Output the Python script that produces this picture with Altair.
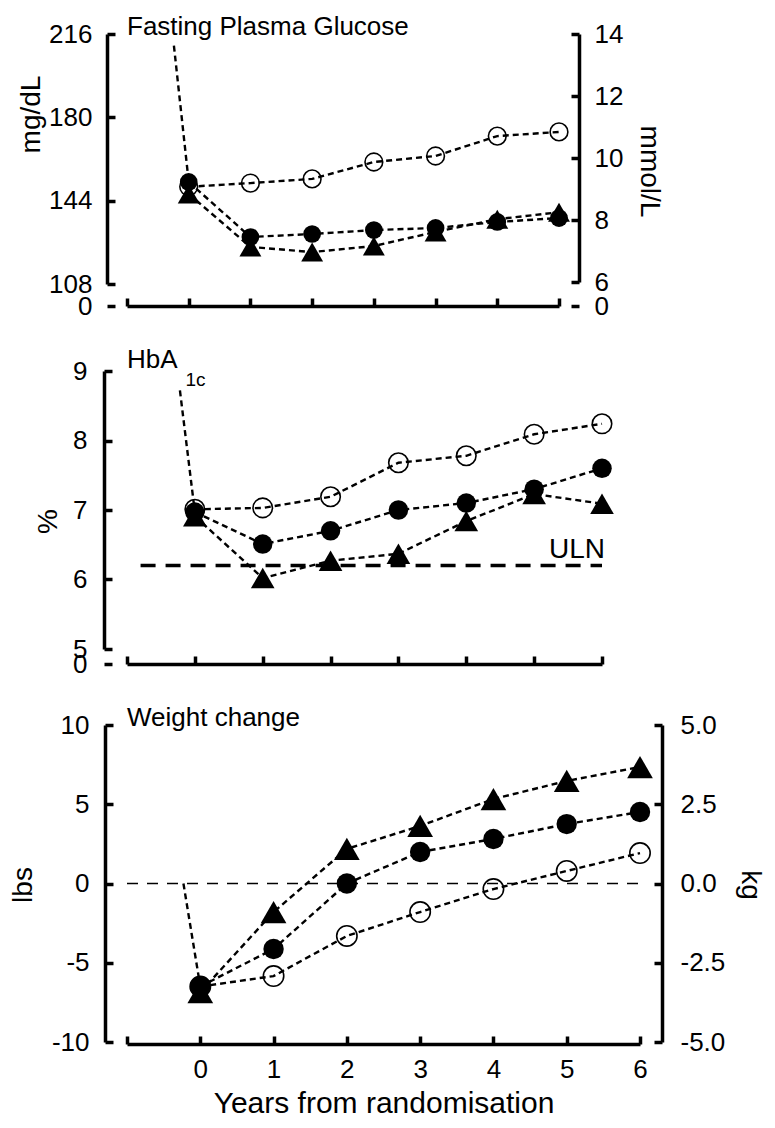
import altair as alt
import pandas as pd

# ---------------- data ----------------
years = [0, 1, 2, 3, 4, 5, 6]
groups = ["Conventional", "Sulphonylurea", "Insulin"]

fpg_conventional = [150.0, 151.6, 153.4, 160.7, 163.3, 171.9, 173.7]
fpg_sulphonylurea = [152.1, 128.3, 129.6, 131.3, 132.2, 134.8, 136.5]
fpg_insulin = [146.9, 124.0, 121.8, 124.4, 130.5, 136.0, 139.0]
fpg_pre_year = -0.24
fpg_pre_value = 211.0

hba_conventional = [7.01, 7.03, 7.19, 7.68, 7.78, 8.09, 8.24]
hba_sulphonylurea = [6.97, 6.51, 6.70, 7.00, 7.10, 7.30, 7.60]
hba_insulin = [6.91, 6.02, 6.27, 6.37, 6.84, 7.23, 7.09]
hba_pre_year = -0.22
hba_pre_value = 8.72
hba_uln = 6.2
hba_uln_from = -0.8

wt_conventional = [-6.5, -5.84, -3.31, -1.80, -0.35, 0.79, 1.92]
wt_sulphonylurea = [-6.5, -4.13, 0.0, 1.99, 2.81, 3.75, 4.51]
wt_insulin = [-6.85, -1.8, 2.18, 3.63, 5.33, 6.47, 7.35]
wt_pre_year = -0.23
wt_pre_value = 0.0

x_ticks = [-1, 0, 1, 2, 3, 4, 5, 6]
x_labels = [0, 1, 2, 3, 4, 5, 6]
fpg_ticks = [108, 144, 180, 216]
mmol_ticks = [6, 8, 10, 12, 14]
hba_ticks = [5, 6, 7, 8, 9]
lbs_ticks = [-10, -5, 0, 5, 10]
kg_ticks = [-5.0, -2.5, 0.0, 2.5, 5.0]

# ---------------- style ----------------
FONT = "Liberation Sans"
LW = 3.5
TICK = 8
LABEL_FS = 26
TITLE_FS = 28


def long_df(vals):
    rows = []
    for g, v in zip(groups, vals):
        for yr, val in zip(years, v):
            rows.append({"year": yr, "value": val, "group": g})
    return pd.DataFrame(rows)


def lab_expr(lo, dec, stub):
    base = f"(datum.value < 0 ? '-' : '') + format(abs(datum.value), '.{dec}f')"
    if stub:
        return f"datum.value < {lo - 1e-6} ? '0' : " + base
    return base


def ghost(data, field, xs, xaxis, ys, yaxis):
    return alt.Chart(data).mark_point(opacity=0).encode(
        x=alt.X("year:Q", scale=xs, axis=xaxis),
        y=alt.Y(f"{field}:Q", scale=ys, axis=yaxis),
    )


def make_panel(vals, pre_year, pre_value, W, H, Hm, lticks, ltitle, loff,
               ltitleY=None, ltitlePad=4, llabPad=15, right=None, show_x=False,
               stub=True, extra=None, title=None, csize=314, tsize=480, sub=None):
    df = long_df(vals)
    pre_df = pd.DataFrame({"year": [pre_year, 0], "value": [pre_value, vals[1][0]],
                           "group": ["pre", "pre"]})
    line_df = pd.concat([df, pre_df], ignore_index=True)
    xs = alt.Scale(domain=[-1, 6], nice=False, zero=False)
    lo, hi = lticks[0], lticks[-1]
    full_lo = lo - (H - Hm) / Hm * (hi - lo)
    ls = alt.Scale(domain=[full_lo, hi], nice=False, zero=False)          # data scale
    lmain = alt.Scale(domain=[lo, hi], range=[Hm, 0], nice=False, zero=False)  # axis line only
    lvals = ([full_lo] if stub else []) + lticks

    xaxis = alt.Axis(orient="bottom", values=x_labels, domain=True, domainWidth=LW,
                     domainColor="black", ticks=False, labels=show_x, labelFlush=False,
                     labelFontSize=LABEL_FS, labelPadding=12, labelColor="black",
                     title="Years from randomisation" if show_x else None,
                     titleFontSize=TITLE_FS + 2, titleFontWeight="normal", titlePadding=6,
                     titleColor="black", grid=False)
    laxis_kw = dict(orient="left", offset=loff, values=lvals,
                    labelExpr=lab_expr(lo, 0, stub), ticks=False, domain=False,
                    labelPadding=llabPad, labelFontSize=LABEL_FS, labelOverlap=False,
                    labelColor="black", title=ltitle, titleFontSize=TITLE_FS,
                    titleFontWeight="normal", titlePadding=ltitlePad, titleColor="black",
                    grid=False)
    if ltitleY is not None:
        laxis_kw["titleY"] = ltitleY
    laxis = alt.Axis(**laxis_kw)

    lines = alt.Chart(line_df).mark_line(
        strokeDash=[6, 4], strokeWidth=2.4, color="black"
    ).encode(
        x=alt.X("year:Q", scale=xs, axis=xaxis),
        y=alt.Y("value:Q", scale=ls, axis=laxis),
        detail="group:N",
    )

    def pts(g, shape, filled, size):
        return alt.Chart(df[df["group"] == g]).mark_point(
            shape=shape, filled=filled, size=size, color="black",
            strokeWidth=1.6, opacity=1
        ).encode(
            x=alt.X("year:Q", scale=xs, axis=None),
            y=alt.Y("value:Q", scale=ls, axis=None),
        )

    open_pts = pts(groups[0], "circle", False, csize)
    tri_pts = pts(groups[2], "triangle-up", True, tsize)
    fill_pts = pts(groups[1], "circle", True, csize)

    # inward ticks of the left axis
    lticks_layer = ghost(df, "value", xs, None, ls, alt.Axis(
        orient="right", offset=-(W + loff), values=lvals, labels=False,
        domain=False, ticks=True, tickSize=TICK, tickWidth=LW,
        tickColor="black", title=None, grid=False))
    # left axis line (broken below the lowest labelled tick)
    ldomain_layer = ghost(df, "value", xs, None, lmain, alt.Axis(
        orient="left", offset=loff, values=lticks, labels=False, ticks=False,
        domain=True, domainWidth=LW, domainColor="black", title=None, grid=False))
    # inward ticks of the x axis
    xt_kw = dict(orient="top", offset=-H, values=x_ticks, labels=False, domain=False,
                 ticks=True, tickSize=TICK, tickWidth=LW, tickColor="black", grid=False)
    if sub is not None:
        xt_kw.update(title=sub[0], titleX=sub[1], titleY=sub[2] - H, titleAlign="left",
                     titleBaseline="alphabetic", titleAngle=0, titleFontSize=19,
                     titleFontWeight="normal", titleColor="black", titleFont=FONT)
    else:
        xt_kw["title"] = None
    xticks_layer = ghost(df, "value", xs, alt.Axis(**xt_kw), ls, None)

    layers = [lines, open_pts, tri_pts, fill_pts, lticks_layer, ldomain_layer, xticks_layer]

    if right is not None:
        rticks, rtitle, roff, rHm, rdec, rtitleY, rtitlePad, rlabPad = right
        rlo, rhi = rticks[0], rticks[-1]
        rfull_lo = rlo - (H - rHm) / rHm * (rhi - rlo)
        rs = alt.Scale(domain=[rfull_lo, rhi], nice=False, zero=False)
        rmain = alt.Scale(domain=[rlo, rhi], range=[rHm, 0], nice=False, zero=False)
        rvals = ([rfull_lo] if stub else []) + rticks
        rdf = pd.DataFrame({"year": [0] * len(rticks), "v": rticks})
        raxis_kw = dict(orient="right", offset=roff, values=rvals,
                        labelExpr=lab_expr(rlo, rdec, stub), ticks=False, domain=False,
                        labelPadding=rlabPad, labelFontSize=LABEL_FS, labelOverlap=False,
                        labelColor="black", title=rtitle, titleFontSize=TITLE_FS,
                        titleFontWeight="normal", titlePadding=rtitlePad,
                        titleColor="black", grid=False)
        if rtitleY is not None:
            raxis_kw["titleY"] = rtitleY
        rl = ghost(rdf, "v", xs, None, rs, alt.Axis(**raxis_kw))
        rt = ghost(rdf, "v", xs, None, rs, alt.Axis(
            orient="left", offset=-(W + roff), values=rvals, labels=False,
            domain=False, ticks=True, tickSize=TICK, tickWidth=LW,
            tickColor="black", title=None, grid=False))
        rd = ghost(rdf, "v", xs, None, rmain, alt.Axis(
            orient="right", offset=roff, values=rticks, labels=False, ticks=False,
            domain=True, domainWidth=LW, domainColor="black", title=None, grid=False))
        layers += [rl, rt, rd]

    if extra is not None:
        layers += extra(xs, ls)

    return alt.layer(*layers).resolve_scale(y="independent").resolve_axis(
        x="independent", y="independent"
    ).properties(width=W, height=H, title=title)


def title_params(text, offset):
    return alt.TitleParams(text=text, anchor="start", frame="group", fontSize=26,
                           fontWeight="normal", font=FONT, color="black", offset=offset)


# ---------------- panels ----------------
top = make_panel(
    [fpg_conventional, fpg_sulphonylurea, fpg_insulin], fpg_pre_year, fpg_pre_value,
    W=432, H=272, Hm=250, lticks=fpg_ticks, ltitle="mg/dL", loff=20, ltitleY=80,
    ltitlePad=3, llabPad=15,
    right=(mmol_ticks, "mmol/L", 20, 248, 0, 137, 12, 15),
    title=title_params("Fasting Plasma Glucose", -19), csize=314, tsize=480,
)


def hba_extra(xs, ls):
    uln_df = pd.DataFrame({"x": [hba_uln_from], "x2": [6], "y": [hba_uln], "label": ["ULN"]})
    rule = alt.Chart(uln_df).mark_rule(strokeDash=[15, 10], strokeWidth=3.5, color="black").encode(
        x=alt.X("x:Q", scale=xs, axis=None), x2="x2:Q",
        y=alt.Y("y:Q", scale=ls, axis=None),
    )
    txt = alt.Chart(uln_df).mark_text(
        align="right", baseline="alphabetic", dx=3, dy=-8, fontSize=28, font=FONT,
        color="black"
    ).encode(
        x=alt.X("x2:Q", scale=xs, axis=None),
        y=alt.Y("y:Q", scale=ls, axis=None),
        text="label:N",
    )
    return [rule, txt]


mid = make_panel(
    [hba_conventional, hba_sulphonylurea, hba_insulin], hba_pre_year, hba_pre_value,
    W=475, H=293, Hm=278, lticks=hba_ticks, ltitle="%", loff=23, ltitleY=150,
    ltitlePad=10, llabPad=17, extra=hba_extra,
    title=title_params("HbA", -15), csize=380, tsize=560, sub=("1c", 58, 14),
)


def wt_extra(xs, ls):
    zdf = pd.DataFrame({"x": [-1], "x2": [6], "y": [0]})
    return [alt.Chart(zdf).mark_rule(strokeDash=[11, 9], strokeWidth=1.3, color="black").encode(
        x=alt.X("x:Q", scale=xs, axis=None), x2="x2:Q",
        y=alt.Y("y:Q", scale=ls, axis=None),
    )]


bot = make_panel(
    [wt_conventional, wt_sulphonylurea, wt_insulin], wt_pre_year, wt_pre_value,
    W=513, H=319, Hm=317, lticks=lbs_ticks, ltitle="lbs", loff=22, ltitleY=None,
    ltitlePad=14, llabPad=16, stub=False, show_x=True, extra=wt_extra,
    right=(kg_ticks, "kg", 22, 317, 1, None, 11, 18),
    title=title_params("Weight change", -19), csize=415, tsize=660,
)

chart = alt.vconcat(top, mid, bot, spacing=28).properties(
    padding={"left": 1, "top": 6, "right": 3, "bottom": 0}
).configure(font=FONT).configure_view(stroke=None)

chart.save("out.html", embed_options={"renderer": "svg", "actions": False})
